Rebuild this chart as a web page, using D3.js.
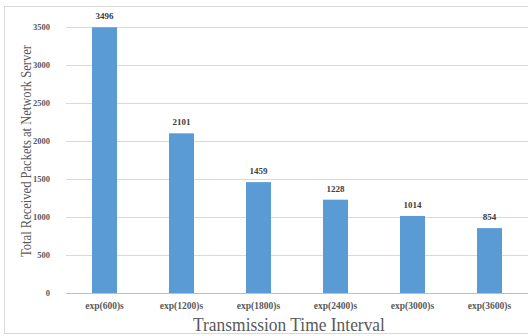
<!DOCTYPE html>
<html><head><meta charset="utf-8">
<script src="https://cdn.jsdelivr.net/npm/d3@7"></script>
<style>html,body{margin:0;padding:0;background:#fff;}svg{display:block;}</style>
</head><body>
<script>
const categories = ["exp(600)s","exp(1200)s","exp(1800)s","exp(2400)s","exp(3000)s","exp(3600)s"];
const values = [3496, 2101, 1459, 1228, 1014, 854];
const yTicks = [0, 500, 1000, 1500, 2000, 2500, 3000, 3500];
const xTitle = "Transmission Time Interval";
const yTitle = "Total Received Packets at Network Server";

const W = 528, H = 336;
const m = {left: 66, right: 0, top: 27, bottom: 43};
const svg = d3.select("body").append("svg").attr("width", W).attr("height", H);
svg.append("rect").attr("x", 4.5).attr("y", 6.5).attr("width", W + 10).attr("height", 327)
  .attr("fill", "#fff").attr("stroke", "#d9d9d9");

const x = d3.scaleBand().domain(categories).range([m.left, W - m.right]).paddingInner(0.675).paddingOuter(0.3375);
const y = d3.scaleLinear().domain([0, 3500]).range([H - m.bottom, m.top]);

const font = "Liberation Serif, Times New Roman, serif";

// gridlines
svg.append("g").selectAll("line").data(yTicks.filter(d => d > 0)).join("line")
  .attr("x1", m.left).attr("x2", W).attr("y1", d => Math.round(y(d)) + 0.5).attr("y2", d => Math.round(y(d)) + 0.5)
  .attr("stroke", "#d9d9d9").attr("stroke-width", 1);

// y axis labels
const yAxis = d3.axisLeft(y).tickValues(yTicks).tickFormat(d3.format("d")).tickSize(0).tickPadding(16);
const gy = svg.append("g").attr("transform", `translate(${m.left},0)`).call(yAxis)
  .attr("font-family", font).attr("font-size", 8.5);
gy.select(".domain").remove();
gy.selectAll("text").style("font-family", font).attr("font-weight", "bold").attr("fill", "#595959");

// bars
svg.append("g").selectAll("rect").data(values).join("rect")
  .attr("x", (d, i) => x(categories[i])).attr("width", x.bandwidth())
  .attr("y", d => y(d)).attr("height", d => y(0) - y(d)).attr("fill", "#5b9bd5");

// value labels
svg.append("g").selectAll("text").data(values).join("text")
  .attr("x", (d, i) => x(categories[i]) + x.bandwidth() / 2).attr("y", d => y(d) - 8)
  .attr("text-anchor", "middle").style("font-family", font).attr("font-size", 9).attr("font-weight", "bold")
  .attr("fill", "#404040").text(d => d);

// x axis
const xAxis = d3.axisBottom(x).tickSize(0).tickPadding(9);
const gx = svg.append("g").attr("transform", `translate(0,${y(0)})`).call(xAxis)
  .attr("font-family", font).attr("font-size", 9.5);
gx.select(".domain").attr("stroke", "#bfbfbf").attr("d", `M${m.left},0.5H${W}`);
gx.selectAll("text").style("font-family", font).attr("font-weight", "bold").attr("fill", "#595959");

// titles (horizontally condensed to match the reference)
function condensed(txt, fs, target, base) {
  const t = svg.append("text").attr("text-anchor", "middle").style("font-family", font)
    .attr("font-size", fs).attr("fill", "#595959").text(txt);
  const s = target / t.node().getComputedTextLength();
  t.attr("transform", `${base} scale(${s},1)`);
  return t;
}
condensed(xTitle, 19, 192, "translate(289,331)");
condensed(yTitle, 15.5, 212, "translate(31,151) rotate(-90)");
</script>
</body></html>
